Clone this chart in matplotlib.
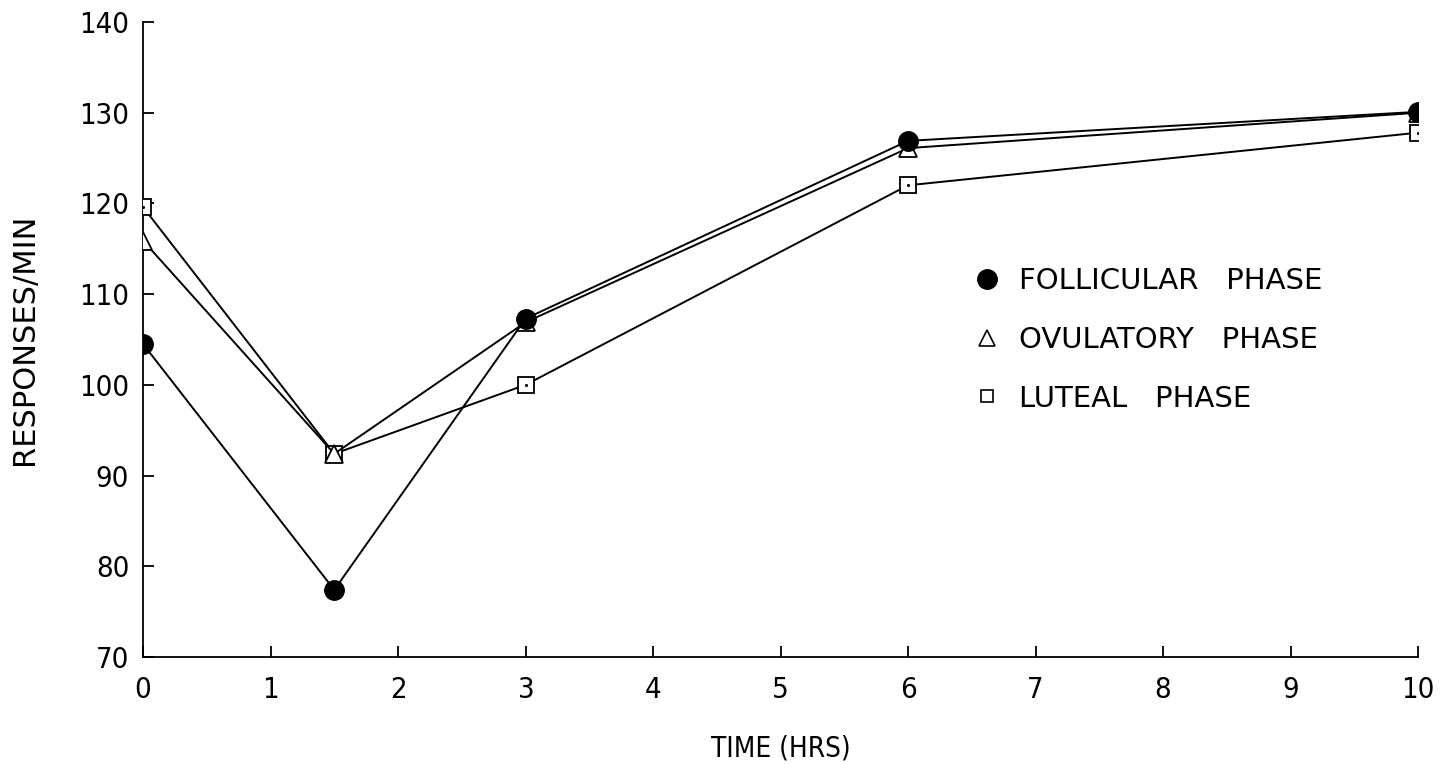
import matplotlib
matplotlib.use("Agg")
import matplotlib.pyplot as plt
from matplotlib.lines import Line2D

plt.rcParams['font.family'] = ['DejaVu Sans']
plt.rcParams['font.stretch'] = 'condensed'

# data
hours = [0, 1.5, 3, 6, 10]
follicular = [104.5, 77.4, 107.3, 126.9, 130.1]
ovulatory = [115.9, 92.4, 106.9, 126.1, 130.0]
luteal = [119.6, 92.4, 100.0, 122.0, 127.8]

xticks = list(range(0, 11))
yticks = list(range(70, 141, 10))

fig = plt.figure(figsize=(14.55, 7.65), dpi=100)
ax = fig.add_axes([0.0983, 0.1412, 0.8763, 0.83])

lw = 1.4
ax.plot(hours, luteal, color='black', lw=lw, marker='s', ms=12,
        mfc='white', mec='black', mew=1.3, zorder=3)
ax.plot(hours, luteal, ls='none', marker='.', ms=2.5, color='black', zorder=3.1)
ax.plot(hours, ovulatory, color='black', lw=lw, marker='^', ms=13,
        mfc='white', mec='black', mew=1.3, zorder=4)
ax.plot(hours, follicular, color='black', lw=lw, marker='o', ms=14,
        mfc='black', mec='black', zorder=5)

ax.set_xlim(0, 10)
ax.set_ylim(70, 140)
ax.set_xticks(xticks)
ax.set_yticks(yticks)
ax.spines['top'].set_visible(False)
ax.spines['right'].set_visible(False)
ax.spines['left'].set_linewidth(1.3)
ax.spines['bottom'].set_linewidth(1.3)
ax.tick_params(direction='in', length=8, width=1.3, labelsize=21)
ax.tick_params(axis='x', pad=14)
ax.tick_params(axis='y', pad=10)

ax.set_xlabel('TIME (HRS)', fontsize=20, labelpad=22)
ax.set_ylabel('RESPONSES/MIN', fontsize=22, fontstretch='normal', labelpad=29)

handles = [
    Line2D([], [], ls='none', marker='o', ms=14, mfc='black', mec='black'),
    Line2D([], [], ls='none', marker='^', ms=11, mfc='white', mec='black', mew=1.2),
    Line2D([], [], ls='none', marker='s', ms=9, mfc='white', mec='black', mew=1.2),
]
labels = ['FOLLICULAR   PHASE', 'OVULATORY   PHASE', 'LUTEAL   PHASE']
leg = ax.legend(handles, labels, loc='upper left', bbox_to_anchor=(0.63, 0.655),
                frameon=False, fontsize=21, handlelength=1.0, handletextpad=0.6,
                labelspacing=1.05)
for t in leg.get_texts():
    t.set_fontstretch('normal')

fig.savefig('out.png', dpi=100)
